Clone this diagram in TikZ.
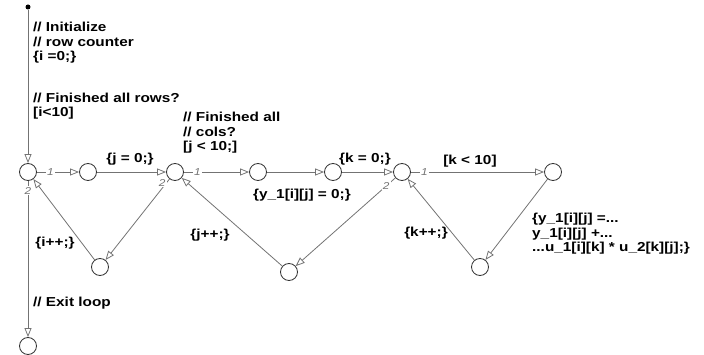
\documentclass[tikz,border=0pt]{standalone}
\usepackage{fontspec}
\setmainfont{Liberation Sans}[FakeStretch=1.18]
\usetikzlibrary{arrows.meta,positioning}
\begin{document}
\begin{tikzpicture}[x=1pt,y=-1pt,
  junc/.style={circle,draw=black!80,line width=0.8pt,minimum size=17pt,inner sep=0pt},
  trans/.style={draw=black!55,line width=0.8pt,-{Triangle[open,length=9pt,width=7pt]}},
  lbl/.style={font=\fontsize{13}{14.5}\selectfont\bfseries,inner sep=0pt,align=left},
  prio/.style={font=\fontsize{10}{10}\selectfont\itshape,text=black!55,fill=white,inner sep=1pt}]
\useasboundingbox (0,0) rectangle (704,355);
\node[fill,circle,inner sep=0pt,minimum size=5pt] (start) at (28,7) {};
\node[junc] (a) at (28,172) {};
\node[junc] (b) at (88,172) {};
\node[junc] (c) at (175,172) {};
\node[junc] (d) at (100,267) {};
\node[junc] (e) at (28,346) {};
\node[junc] (f) at (258,172) {};
\node[junc] (g) at (333,172) {};
\node[junc] (h) at (402,172) {};
\node[junc] (i) at (289,272) {};
\node[junc] (j) at (553,172) {};
\node[junc] (k) at (480,267) {};
\draw[trans] (start) -- (a);
\draw[trans] (a) -- (b);
\draw[trans] (b) -- (c);
\draw[trans] (c) -- (f);
\draw[trans] (f) -- (g);
\draw[trans] (g) -- (h);
\draw[trans] (h) -- (j);
\draw[trans] (j) -- (k);
\draw[trans] (k) -- (h);
\draw[trans] (h) -- (i);
\draw[trans] (i) -- (c);
\draw[trans] (c) -- (d);
\draw[trans] (d) -- (a);
\draw[trans] (a) -- (e);
\node[prio,right=9pt of a] (a1) {1};
\node[prio,below=5pt of a] (a2) {2};
\node[prio,right=9pt of c] (c1) {1};
\node[prio,below left=0pt and 2pt of c] (c2) {2};
\node[prio,right=9pt of h] (h1) {1};
\node[prio,below left=3pt and 5pt of h] (h2) {2};
\node[lbl,anchor=west] (init) at (33,43) {// Initialize\\// row counter\\\{i =0;\}};
\node[lbl,anchor=west] (rows) at (33,106) {// Finished all rows?\\{}[i<10]};
\node[lbl,anchor=west] (cols) at (183,133) {// Finished all\\// cols?\\{}[j < 10;]};
\node[lbl] (jset) at (130,159) {\{j = 0;\}};
\node[lbl] (yset) at (302,195) {\{y\_1[i][j] = 0;\}};
\node[lbl] (kset) at (365,159) {\{k = 0;\}};
\node[lbl] (kcond) at (470,161) {[k < 10]};
\node[lbl,anchor=west] (yupd) at (532,234) {\{y\_1[i][j] =...\\y\_1[i][j] +...\\...u\_1[i][k] * u\_2[k][j];\}};
\node[lbl] (kinc) at (426,233) {\{k++;\}};
\node[lbl] (jinc) at (210,235) {\{j++;\}};
\node[lbl] (iinc) at (55,243) {\{i++;\}};
\node[lbl,anchor=west] (exit) at (33,303) {// Exit loop};
\end{tikzpicture}
\end{document}
